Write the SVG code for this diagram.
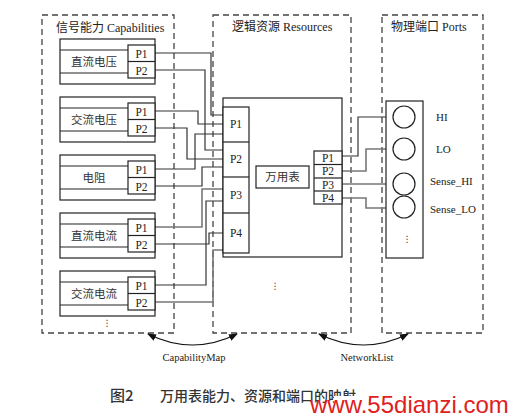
<svg xmlns="http://www.w3.org/2000/svg" width="524" height="419" viewBox="0 0 524 419">
<defs>
<marker id="arr" markerWidth="9" markerHeight="7" refX="8" refY="3.5" orient="auto-start-reverse" markerUnits="userSpaceOnUse">
<path d="M0,0 L9,3.5 L0,7 z" fill="#111"/>
</marker>
<style>
.grp{fill:none;stroke:#444;stroke-width:1.3;stroke-dasharray:6,4}
.bx{fill:#fff;stroke:#222;stroke-width:1.2}
.ln{fill:none;stroke:#222;stroke-width:1.2}
.w{fill:none;stroke:#333;stroke-width:1.2}
.wg{fill:none;stroke:#777;stroke-width:1.6}
.t{font-family:"Liberation Serif","Noto Sans CJK SC",serif;fill:#222}
.c{font-family:"Noto Sans CJK SC","Liberation Serif",serif;fill:#333;font-size:11.5px;text-anchor:middle}
.p{font-family:"Liberation Serif",serif;fill:#222;font-size:11.5px;text-anchor:middle}
.d{font-family:"DejaVu Sans",sans-serif;fill:#333;font-size:9px;text-anchor:middle}
.map{fill:none;stroke:#111;stroke-width:1.2}
</style>
</defs>
<rect width="524" height="419" fill="#fff"/>

<!-- group frames -->
<g id="capabilities">
<rect class="grp" x="42" y="15" width="132" height="318"/>
<text class="t" x="56" y="32" font-size="12">信号能力 Capabilities</text>
<text class="d" x="107" y="326">⋮</text>
</g>
<g id="resources">
<rect class="grp" x="213" y="15" width="138" height="318"/>
<text class="t" x="232" y="31" font-size="12">逻辑资源 Resources</text>
<text class="d" x="275" y="289">⋮</text>
</g>
<g id="ports">
<rect class="grp" x="382" y="15" width="101" height="318"/>
<text class="t" x="391" y="31" font-size="12">物理端口 Ports</text>
</g>

<!-- connectors -->
<g id="connectors">
<polyline class="w" points="155,53 211,53 211,115 223,115"/>
<polyline class="w" points="155,70 205,70 205,150 223,150"/>
<polyline class="w" points="155,111 198,111 198,124 223,124"/>
<polyline class="w" points="155,128 187,128 187,159 223,159"/>
<polyline class="w" points="155,169 195,169 195,134 223,134"/>
<polyline class="w" points="155,186 202,186 202,167 223,167"/>
<polyline class="wg" points="155,227 202,227 202,189 223,189"/>
<polyline class="w" points="155,285 206,285 206,201 223,201"/>
<polyline class="w" points="155,244 209,244 209,233 223,233"/>
<polyline class="wg" points="155,302 213,302 213,250 223,250"/>
<polyline class="w" points="342,156 358,156 358,117 393,117"/>
<polyline class="wg" points="342,171 366,171 366,149 393,149"/>
<polyline class="w" points="342,184 393,184"/>
<polyline class="wg" points="342,198 366,198 366,208 393,208"/>
<path class="map" d="M148,334 Q192.5,356 237,334" marker-start="url(#arr)" marker-end="url(#arr)"/>
<path class="map" d="M319,334 Q363.5,356 408,334" marker-start="url(#arr)" marker-end="url(#arr)"/>
<text class="t" x="194" y="361" font-size="10.5" text-anchor="middle">CapabilityMap</text>
<text class="t" x="367" y="361" font-size="10.5" text-anchor="middle">NetworkList</text>
</g>

<!-- capability nodes -->
<g id="cap-dcv">
<rect class="bx" x="60" y="39" width="95" height="45"/>
<line class="ln" x1="60" y1="50" x2="128" y2="50"/><line class="ln" x1="60" y1="73" x2="128" y2="73"/>
<rect class="bx" x="128" y="45" width="27" height="33"/><line class="ln" x1="128" y1="61.5" x2="155" y2="61.5"/>
<text class="c" x="94" y="66">直流电压</text>
<text class="p" x="141.5" y="57.5">P1</text><text class="p" x="141.5" y="74.5">P2</text>
</g>
<g id="cap-acv">
<rect class="bx" x="60" y="97" width="95" height="45"/>
<line class="ln" x1="60" y1="108" x2="128" y2="108"/><line class="ln" x1="60" y1="131" x2="128" y2="131"/>
<rect class="bx" x="128" y="103" width="27" height="33"/><line class="ln" x1="128" y1="119.5" x2="155" y2="119.5"/>
<text class="c" x="94" y="124">交流电压</text>
<text class="p" x="141.5" y="115.5">P1</text><text class="p" x="141.5" y="132.5">P2</text>
</g>
<g id="cap-res">
<rect class="bx" x="60" y="155" width="95" height="45"/>
<line class="ln" x1="60" y1="166" x2="128" y2="166"/><line class="ln" x1="60" y1="189" x2="128" y2="189"/>
<rect class="bx" x="128" y="161" width="27" height="33"/><line class="ln" x1="128" y1="177.5" x2="155" y2="177.5"/>
<text class="c" x="94" y="182">电阻</text>
<text class="p" x="141.5" y="173.5">P1</text><text class="p" x="141.5" y="190.5">P2</text>
</g>
<g id="cap-dci">
<rect class="bx" x="60" y="213" width="95" height="45"/>
<line class="ln" x1="60" y1="224" x2="128" y2="224"/><line class="ln" x1="60" y1="247" x2="128" y2="247"/>
<rect class="bx" x="128" y="219" width="27" height="33"/><line class="ln" x1="128" y1="235.5" x2="155" y2="235.5"/>
<text class="c" x="94" y="240">直流电流</text>
<text class="p" x="141.5" y="231.5">P1</text><text class="p" x="141.5" y="248.5">P2</text>
</g>
<g id="cap-aci">
<rect class="bx" x="60" y="271" width="95" height="45"/>
<line class="ln" x1="60" y1="282" x2="128" y2="282"/><line class="ln" x1="60" y1="305" x2="128" y2="305"/>
<rect class="bx" x="128" y="277" width="27" height="33"/><line class="ln" x1="128" y1="293.5" x2="155" y2="293.5"/>
<text class="c" x="94" y="298">交流电流</text>
<text class="p" x="141.5" y="289.5">P1</text><text class="p" x="141.5" y="306.5">P2</text>
</g>

<!-- resource node -->
<g id="res-dmm">
<rect class="bx" x="223" y="98" width="119" height="159" fill="none"/>
<rect class="bx" x="223" y="107" width="26" height="146" fill="none"/>
<line class="ln" x1="223" y1="142" x2="249" y2="142"/>
<line class="ln" x1="223" y1="177" x2="249" y2="177"/>
<line class="ln" x1="223" y1="213" x2="249" y2="213"/>
<text class="p" x="236" y="128">P1</text>
<text class="p" x="236" y="163">P2</text>
<text class="p" x="236" y="199">P3</text>
<text class="p" x="236" y="237">P4</text>
<rect class="bx" x="256" y="166" width="53" height="22"/>
<text class="c" x="282.5" y="181">万用表</text>
<rect class="bx" x="314" y="151" width="28" height="53" fill="none"/>
<line class="ln" x1="314" y1="164.5" x2="342" y2="164.5"/>
<line class="ln" x1="314" y1="178" x2="342" y2="178"/>
<line class="ln" x1="314" y1="191" x2="342" y2="191"/>
<text class="p" x="328" y="161.5" font-size="11">P1</text>
<text class="p" x="328" y="175" font-size="11">P2</text>
<text class="p" x="328" y="188.5" font-size="11">P3</text>
<text class="p" x="328" y="201.5" font-size="11">P4</text>
</g>

<!-- physical ports -->
<g id="port-panel">
<rect class="bx" x="386" y="101" width="37" height="157" fill="none"/>
<text class="d" x="407" y="242">⋮</text>
</g>
<g id="port-hi"><circle class="bx" cx="404" cy="117" r="11"/><text class="t" x="436" y="121" font-size="11">HI</text></g>
<g id="port-lo"><circle class="bx" cx="404" cy="149" r="11"/><text class="t" x="436" y="153" font-size="11">LO</text></g>
<g id="port-shi"><circle class="bx" cx="404" cy="184" r="11"/><text class="t" x="430" y="185" font-size="11">Sense_HI</text></g>
<g id="port-slo"><circle class="bx" cx="404" cy="207" r="11"/><text class="t" x="430" y="213" font-size="11">Sense_LO</text></g>

<!-- caption -->
<text x="110" y="401" font-family="Noto Sans CJK SC,serif" font-size="15" font-weight="500" fill="#333">图2</text>
<text x="160" y="401" font-family="Noto Sans CJK SC,serif" font-size="14" font-weight="500" fill="#333">万用表能力、资源和端口的映射</text>
<rect x="334" y="396" width="190" height="23" fill="#fff"/>
<text x="310" y="413" font-family="Liberation Sans,sans-serif" font-size="24" fill="#e0201c">www.55dianzi.com</text>
</svg>
